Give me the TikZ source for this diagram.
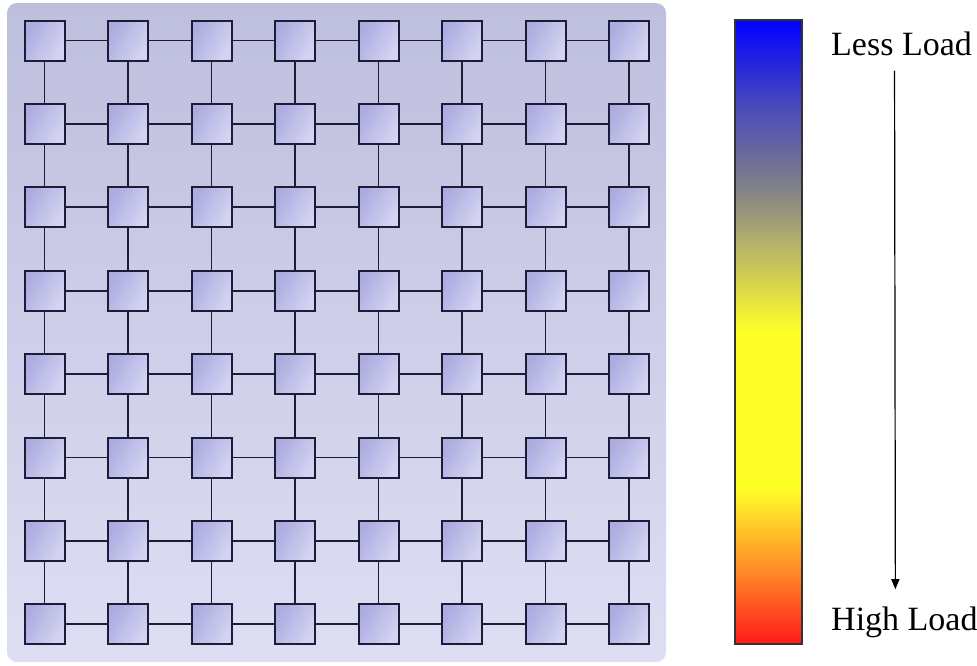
\documentclass[tikz,border=0pt]{standalone}
\usepackage{fontspec}
\setmainfont{Liberation Serif}
\usepackage{xcolor}
\usepackage{tikz}
\usetikzlibrary{positioning,calc,arrows.meta}

\definecolor{meshtop}{RGB}{190,190,222}
\definecolor{meshbot}{RGB}{222,222,243}
\definecolor{tiledark}{RGB}{172,172,224}
\definecolor{tilelight}{RGB}{212,212,242}
\definecolor{tileline}{RGB}{28,28,56}
\definecolor{barred}{RGB}{255,25,25}
\definecolor{barorange}{RGB}{255,140,40}
\definecolor{baryellow}{RGB}{255,255,40}
\definecolor{barolive}{RGB}{188,184,100}
\definecolor{bargray}{RGB}{125,125,140}
\definecolor{barslate}{RGB}{75,75,185}
\definecolor{barblue}{RGB}{0,0,255}

\pgfdeclareverticalshading{loadbar}{100bp}{color(0bp)=(barred); color(25bp)=(barred);
  color(31bp)=(barorange); color(37.5bp)=(baryellow); color(50bp)=(baryellow);
  color(56.5bp)=(barolive); color(62bp)=(bargray); color(68bp)=(barslate);
  color(75bp)=(barblue); color(100bp)=(barblue)}

\begin{document}
\begin{tikzpicture}[x=1pt, y=-1pt,
  tile/.style={draw=tileline, line width=2pt, minimum size=40pt, inner sep=0pt,
               left color=tiledark, right color=tilelight, shading angle=60},
  link/.style={draw=tileline, line width=1.7pt},
  lbl/.style={font=\fontsize{34}{40}\selectfont, inner sep=0pt},
  arr/.style={-{Triangle[length=10pt,width=8pt]}, line width=1.2pt}
]
  \useasboundingbox (0,0) rectangle (977,665);

  % Mesh background
  \node[rounded corners=10pt, top color=meshtop, bottom color=meshbot,
        minimum width=659, minimum height=659, inner sep=0pt] (mesh) at (336.5,332.5) {};

  % Tiles
  \foreach \i in {0,...,7}{
    \foreach \j in {0,...,7}{
      \node[tile] (t-\i-\j) at ({44.5+83.5*\i},{40.5+83.4*\j}) {};
    }
  }

  % Links
  \foreach \i in {0,...,6}{
    \pgfmathtruncatemacro{\k}{\i+1}
    \foreach \j in {0,...,7}{
      \draw[link] (t-\i-\j) -- (t-\k-\j);
      \draw[link] (t-\j-\i) -- (t-\j-\k);
    }
  }

  % Load scale
  \node[draw=black!80, line width=1.2pt, shading=loadbar, minimum width=67,
        minimum height=624, inner sep=0pt] (bar) at (768.5,332) {};

  \node[lbl, anchor=base west] (less) at (831,55) {Less Load};
  \node[lbl, anchor=base west] (high) at (831,630) {High Load};

  \draw[arr] ($(less.south)+(-7,15)$) -- ($(high.north)+(-9,-17)$);
\end{tikzpicture}
\end{document}
